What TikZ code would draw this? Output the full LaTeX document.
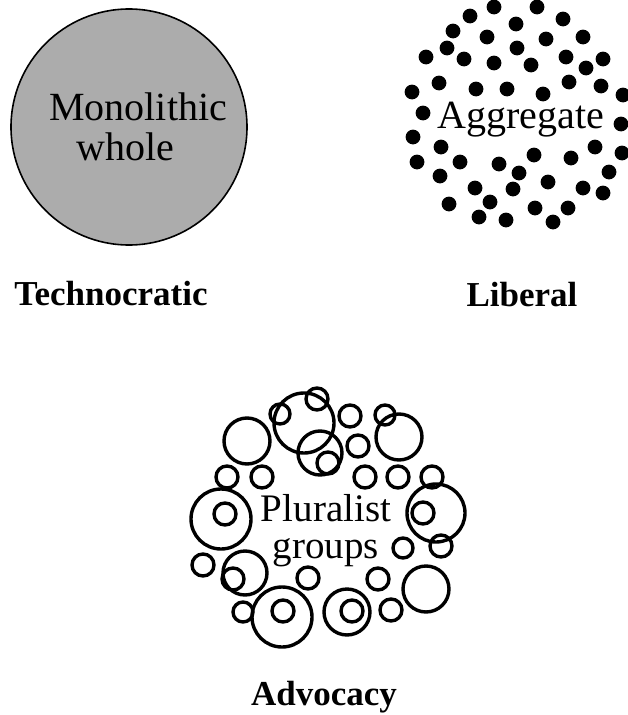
\documentclass[tikz,border=0pt]{standalone}
\usepackage{fontspec}
\setmainfont{Liberation Serif}
\usetikzlibrary{positioning}
\definecolor{stipple}{RGB}{172,172,172}

\begin{document}
\begin{tikzpicture}[x=1pt, y=-1pt,
    caption/.style={font=\fontsize{35}{35}\selectfont\bfseries, anchor=base, inner sep=0pt},
    inword/.style={font=\fontsize{40}{40}\selectfont, align=center, inner sep=0pt},
    ring/.style={draw, line width=3.4pt}]
  \useasboundingbox (0,0) rectangle (627,715);

  % technocratic
  \node[circle, draw, line width=1.6pt, fill=stipple, minimum size=236pt] (whole) at (129,127) {};
  \node[inword, align=left, anchor=base west] (mono) at (49,160) {Monolithic\\\hspace*{27pt}whole};
  \node[caption] (techno) at (111,305) {Technocratic};

  % liberal
  \foreach \x/\y in {494/7, 537/7, 470/16, 563/19, 516/24, 453/31, 487/37, 546/39, 583/37,
      447/48, 517/48, 426/57, 464/59, 494/63, 566/57, 531/65, 586/68, 603/59,
      439/83, 476/89, 507/89, 543/94, 569/82, 601/86, 412/92, 623/95, 423/113, 621/124,
      413/137, 441/147, 595/147, 622/153, 417/162, 460/162, 499/164, 534/155, 571/158,
      440/176, 519/173, 609/172, 475/188, 513/189, 548/182, 583/188, 603/193,
      449/204, 490/202, 479/217, 506/220, 535/208, 568/208, 553/222}
    \fill (\x,\y) circle (7.4);
  \node[inword, anchor=base] (agg) at (521,128) {Aggregate};
  \node[caption] (liberal) at (522,306) {Liberal};

  % advocacy
  \foreach \x/\y/\r in {304/423/30, 317/399/11, 280/414/10, 320/453/22, 328/463/11,
      350/416/11, 385/415/10, 399/437/23, 358/446/11, 247/441/23,
      227/477/11, 262/477/11, 365/477/11, 398/477/11, 432/477/11,
      436/513/29, 423/513/11, 221/519/30, 225/514/11, 403/548/10, 441/546/11,
      203/565/11, 245/573/22, 233/579/11, 308/578/11, 378/579/11, 426/589/23,
      243/612/10, 282/617/30, 283/611/11, 347/612/23, 352/611/11, 391/610/11}
    \draw[ring] (\x,\y) circle (\r);
  \node[inword, font=\fontsize{39}{37}\selectfont, anchor=base] (plural) at (326,558) {Pluralist\\groups};
  \node[caption] (advocacy) at (324,705) {Advocacy};
\end{tikzpicture}
\end{document}
